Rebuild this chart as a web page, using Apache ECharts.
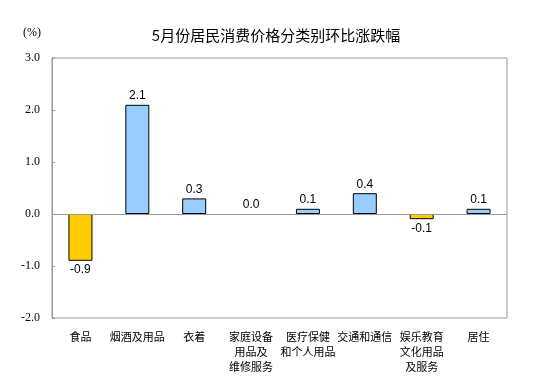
<!DOCTYPE html>
<html><head><meta charset="utf-8">
<script src="https://cdn.jsdelivr.net/npm/echarts@6/dist/echarts.min.js"></script>
<style>html,body{margin:0;padding:0;background:#fff}#c{width:547px;height:388px}</style>
</head><body><div id="c"></div>
<script>
const categories = ['食品','烟酒及用品','衣着','家庭设备\n用品及\n维修服务','医疗保健\n和个人用品','交通和通信','娱乐教育\n文化用品\n及服务','居住'];
const values = [-0.9, 2.1, 0.3, 0.0, 0.1, 0.4, -0.1, 0.1];
const yTicks = [-2, -1, 0, 1, 2, 3];

const chart = echarts.init(document.getElementById('c'));
chart.setOption({
  animation: false,
  backgroundColor: '#fff',
  title: {
    text: '5月份居民消费价格分类别环比涨跌幅',
    left: 271, top: 23, textAlign: 'center',
    textStyle: {fontFamily: 'Noto Sans CJK SC', fontSize: 15, fontWeight: 'normal', color: '#000'}
  },
  graphic: [{type: 'text', left: 23, top: 27, style: {text: '(%)', font: '12px "Liberation Serif"', fill: '#000'}}],
  grid: {left: 52, right: 40, top: 58, bottom: 70, show: true, borderColor: '#999', borderWidth: 1, containLabel: false},
  xAxis: {
    type: 'category', data: categories,
    axisLine: {show: false, onZero: false}, axisTick: {show: false},
    axisLabel: {interval: 0, margin: 11, fontFamily: 'Noto Sans CJK SC', fontSize: 11, color: '#000', lineHeight: 15}
  },
  yAxis: {
    type: 'value', min: yTicks[0], max: yTicks[yTicks.length-1], interval: 1,
    axisLine: {show: true, lineStyle: {color: '#999'}},
    axisTick: {show: true, inside: true, length: 3, lineStyle: {color: '#999'}},
    splitLine: {show: false},
    axisLabel: {margin: 12, formatter: v => v.toFixed(1), fontFamily: 'Liberation Serif', fontSize: 12, color: '#000'}
  },
  series: [{
    type: 'bar', barWidth: 24,
    data: values.map(v => ({
      value: v,
      itemStyle: {color: v < 0 ? '#FFCC00' : '#99CCFF', borderColor: '#000', borderWidth: v === 0 ? 0 : 1},
      label: {show: true, position: v < 0 ? 'bottom' : 'top', distance: 3}
    })),
    label: {formatter: p => p.value.toFixed(1), fontFamily: 'Liberation Sans', fontSize: 12, color: '#000'},
    markLine: {silent: true, symbol: 'none', label: {show: false}, lineStyle: {color: '#999', type: 'solid', width: 1}, data: [{yAxis: 0}]}
  }]
});
</script></body></html>
